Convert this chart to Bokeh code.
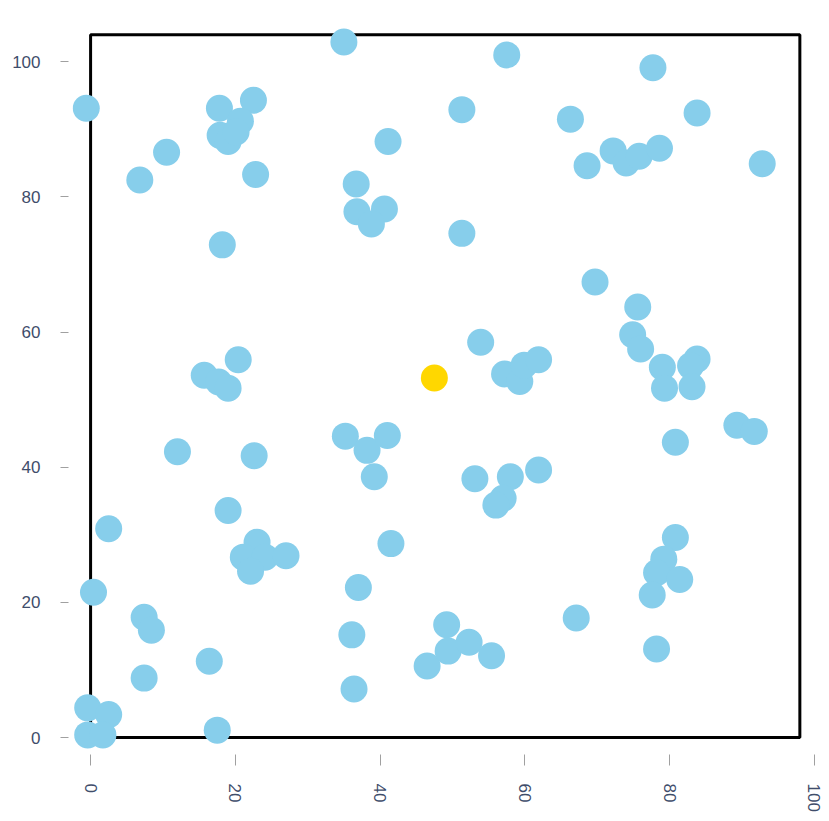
import math
from bokeh.plotting import figure
from bokeh.models import Range1d, FixedTicker
from bokeh.embed import file_html
from bokeh.resources import INLINE

# ---- data ----
x_blue = [35.0, -0.6, 17.8, 22.5, 20.7, 17.9, 19.0, 20.1, 10.5, 6.8,
          22.8, 41.1, 36.7, 36.8, 40.6, 38.8, 18.2, 51.3, 51.3, 20.4,
          15.7, 17.7, 19.0,
          57.5, 77.7, 66.3, 83.8, 68.6, 72.2, 74.0, 75.8, 78.6, 92.8,
          69.7, 75.6, 74.9, 76.0, 79.0, 79.3, 83.8, 82.9, 83.1, 53.9,
          57.2, 59.3, 59.9, 61.9,
          12.0, 22.6, 35.2, 38.2, 41.0, 39.2, 19.0, 2.5, 23.0, 21.1,
          24.1, 27.0, 22.1, 41.5, 0.4, 37.0, 7.4, 8.4, 36.1, 16.4,
          7.4, 36.4, 46.5, 49.2, 49.4, -0.4, 2.5, -0.4, 1.7, 17.5,
          89.3, 91.7, 80.8, 53.1, 58.0, 61.9, 57.0, 56.0, 80.8, 79.2,
          78.2, 81.4, 77.6, 67.1, 78.2, 52.3, 55.4]
y_blue = [102.9, 93.1, 93.1, 94.3, 91.2, 89.1, 88.2, 89.6, 86.6, 82.5,
          83.3, 88.2, 81.9, 77.8, 78.2, 76.0, 72.9, 92.9, 74.6, 55.9,
          53.6, 52.6, 51.7,
          101.0, 99.1, 91.5, 92.4, 84.6, 86.8, 85.0, 86.0, 87.2, 84.9,
          67.4, 63.7, 59.6, 57.5, 54.8, 51.7, 56.0, 55.0, 51.9, 58.5,
          53.8, 52.7, 55.1, 55.9,
          42.3, 41.7, 44.6, 42.5, 44.7, 38.6, 33.6, 30.9, 28.9, 26.7,
          26.7, 26.9, 24.6, 28.7, 21.5, 22.2, 17.8, 15.9, 15.2, 11.3,
          8.8, 7.2, 10.6, 16.7, 12.8, 4.4, 3.4, 0.4, 0.4, 1.1,
          46.2, 45.3, 43.7, 38.3, 38.6, 39.6, 35.4, 34.4, 29.6, 26.4,
          24.4, 23.4, 21.1, 17.7, 13.1, 14.1, 12.1]
x_highlight = [47.5]
y_highlight = [53.2]
tick_values = [0, 20, 40, 60, 80, 100]

# ---- view settings ----
X_MIN, X_MAX = -2.5, 100.3
Y_MIN, Y_MAX = -2.5, 105.5
FRAME_LEFT, FRAME_RIGHT, FRAME_BOTTOM, FRAME_TOP = 0, 98, 0, 104

LABEL_COLOR = "#3f4d6b"
TICK_COLOR = "#a0a0a0"

p = figure(width=826, height=814,
           x_range=Range1d(X_MIN, X_MAX), y_range=Range1d(Y_MIN, Y_MAX),
           output_backend="svg", toolbar_location=None,
           min_border_left=72, min_border_right=10,
           min_border_top=24, min_border_bottom=60)
p.background_fill_color = "white"
p.border_fill_color = "white"
p.outline_line_color = None
p.xgrid.visible = False
p.ygrid.visible = False

# frame (black quadrilateral)
p.quad(left=[FRAME_LEFT], right=[FRAME_RIGHT], bottom=[FRAME_BOTTOM], top=[FRAME_TOP],
       fill_color=None, line_color="black", line_width=3)

p.scatter(x_blue, y_blue, size=27, fill_color="#87CEEB", line_color=None)
p.scatter(x_highlight, y_highlight, size=27, fill_color="#FFD700", line_color=None)

for ax in (p.xaxis[0], p.yaxis[0]):
    ax.ticker = FixedTicker(ticks=tick_values)
    ax.axis_line_color = None
    ax.minor_tick_line_color = None
    ax.major_tick_line_color = TICK_COLOR
    ax.major_tick_line_width = 1
    ax.major_label_text_color = LABEL_COLOR
    ax.major_label_text_font = "Liberation Sans"
    ax.major_label_text_font_size = "17px"

p.yaxis.major_tick_in = -4
p.yaxis.major_tick_out = 12
p.yaxis.major_label_standoff = 20

p.xaxis.major_tick_in = 0
p.xaxis.major_tick_out = 11
p.xaxis.major_label_standoff = 18
p.xaxis.major_label_orientation = -math.pi / 2

open("out.html", "w").write(file_html(p, INLINE))
